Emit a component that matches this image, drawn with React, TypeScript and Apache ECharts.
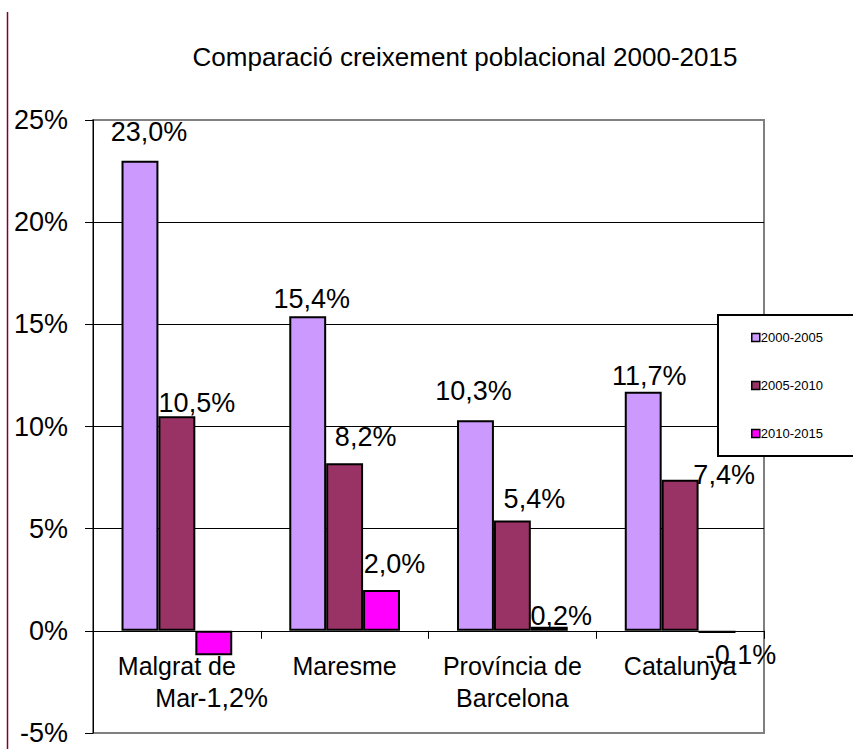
import React, { useEffect, useRef } from "react";
import * as echarts from "echarts";

const categories = ["Malgrat de Mar", "Maresme", "Província de Barcelona", "Catalunya"];
const seriesNames = ["2000-2005", "2005-2010", "2010-2015"];
const values2000_2005 = [23.0, 15.4, 10.3, 11.7];
const values2005_2010 = [10.5, 8.2, 5.4, 7.4];
const values2010_2015 = [-1.2, 2.0, 0.2, -0.1];
const colors = ["#CC99FF", "#993366", "#FF00FF"];
const yTicks = [-5, 0, 5, 10, 15, 20, 25];
const titleText = "Comparació creixement poblacional 2000-2015";

// label offsets per series/item (Excel-like label placement)
const labelOffsets = [
  [[9, -10], [4, 1], [-2, -11], [6, 3]],
  [[20, 5], [21, -8], [22, -3], [44, 14]],
  [[19, 24], [13, -7], [12, 8], [24, 4]],
];

function fmt(v: number) {
  return v.toFixed(1).replace(".", ",") + "%";
}

export default function App() {
  const ref = useRef<HTMLDivElement>(null);
  useEffect(() => {
    if (!ref.current) return;
    const chart = echarts.init(ref.current, undefined, { renderer: "svg" });
    const all = [values2000_2005, values2005_2010, values2010_2015];
    const series = all.map((vals, si) => ({
      name: seriesNames[si],
      type: "bar",
      barGap: "0%",
      barCategoryGap: "34%",
      itemStyle: { color: colors[si], borderColor: "#000", borderWidth: 2 },
      data: vals.map((v, i) => ({
        value: v,
        label: {
          show: true,
          position: v < 0 ? "bottom" : "top",
          offset: labelOffsets[si][i],
          formatter: () => fmt(v),
          fontSize: 27,
          color: "#000",
          fontFamily: "Liberation Sans, Arial, sans-serif",
        },
      })),
    }));
    chart.setOption({
      animation: false,
      backgroundColor: "#fff",
      title: {
        text: titleText,
        left: 460,
        textAlign: "center",
        top: 39,
        textStyle: {
          fontFamily: "Liberation Sans, Arial, sans-serif",
          fontSize: 26,
          fontWeight: "normal",
          color: "#000",
        },
      },
      legend: {
        orient: "vertical",
        left: 718,
        top: 315,
        data: seriesNames,
        backgroundColor: "#fff",
        borderColor: "#000",
        borderWidth: 2,
        borderRadius: 0,
        padding: [16, 40, 16, 33],
        itemGap: 35,
        itemWidth: 8,
        itemHeight: 8,
        icon: "rect",
        itemStyle: { borderColor: "#000", borderWidth: 1.5 },
        textStyle: {
          fontFamily: "Liberation Sans, Arial, sans-serif",
          fontSize: 13,
          color: "#000",
          padding: [0, 0, 0, -4],
        },
      },
      grid: {
        left: 93,
        top: 120,
        right: 89,
        bottom: 16,
        show: true,
        borderColor: "#808080",
        borderWidth: 2,
        containLabel: false,
        outerBoundsMode: "none",
      },
      xAxis: {
        type: "category",
        data: categories,
        axisLine: { onZero: true, lineStyle: { color: "#000", width: 1 } },
        axisTick: { show: true, alignWithLabel: false, length: 8, lineStyle: { color: "#000" } },
        axisLabel: {
          interval: 0,
          margin: -83,
          fontSize: 25,
          lineHeight: 32,
          color: "#000",
          fontFamily: "Liberation Sans, Arial, sans-serif",
          formatter: (s: string) => s.replace(" de ", " de\n"),
        },
      },
      yAxis: {
        type: "value",
        min: yTicks[0],
        max: yTicks[yTicks.length - 1],
        interval: 5,
        axisLine: { show: true, lineStyle: { color: "#000", width: 1 } },
        axisTick: { show: true, length: 8, lineStyle: { color: "#000" } },
        axisLabel: {
          formatter: "{value}%",
          margin: 25,
          fontSize: 27,
          color: "#000",
          fontFamily: "Liberation Sans, Arial, sans-serif",
        },
        splitLine: {
          show: true,
          lineStyle: {
            color: ["#808080", "#000", "#000", "#000", "#000", "#000", "#808080"],
            width: 1,
          },
        },
      },
      graphic: [
        {
          type: "line",
          shape: { x1: 7.5, y1: 12, x2: 7.5, y2: 749 },
          style: { stroke: "#800030", lineWidth: 1.5 },
          z: 100,
        },
      ],
      series,
    });
    return () => chart.dispose();
  }, []);
  return (
    <div
      ref={ref}
      style={{ position: "fixed", left: 0, top: 0, width: 853, height: 749 }}
    />
  );
}
